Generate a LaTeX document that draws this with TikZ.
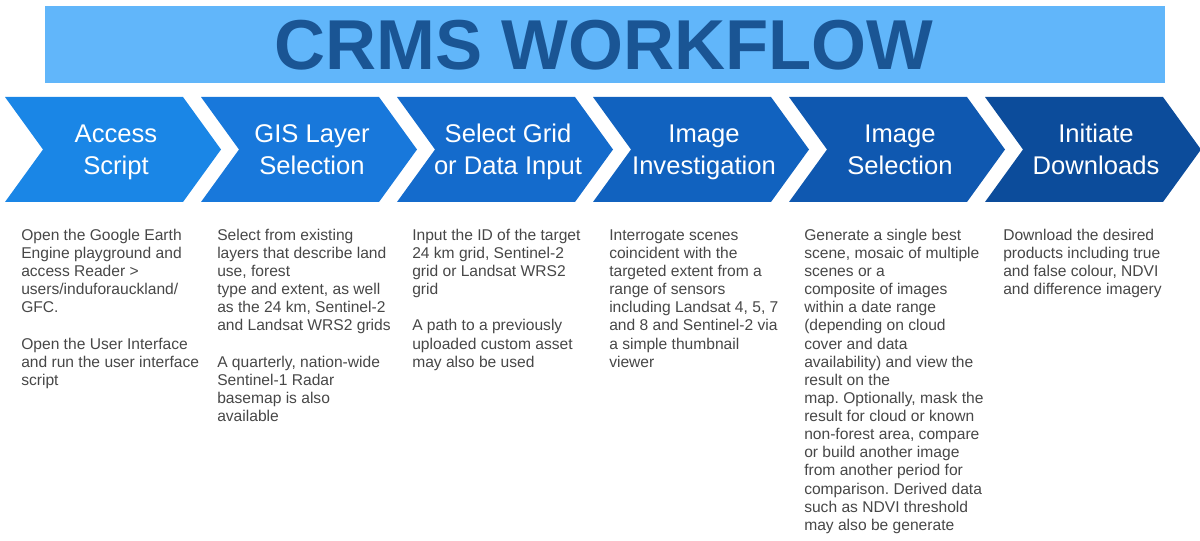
\documentclass[tikz,border=0pt]{standalone}
\usepackage{fontspec}
\setmainfont{Liberation Sans}
\frenchspacing
\definecolor{bannerblue}{HTML}{61B6FA}
\definecolor{titleblue}{HTML}{1A5594}
\definecolor{stepA}{HTML}{1A86E6}
\definecolor{stepB}{HTML}{1878DB}
\definecolor{stepC}{HTML}{146BCC}
\definecolor{stepD}{HTML}{1162BF}
\definecolor{stepE}{HTML}{0F58B0}
\definecolor{stepF}{HTML}{0C4C9B}
\definecolor{notegray}{HTML}{474747}
\begin{document}
\begin{tikzpicture}[x=0.75pt,y=-0.75pt,
    steplabel/.style={text=white,align=center,font=\fontsize{19.2}{24}\selectfont},
    stepnote/.style={text=notegray,align=left,anchor=north west,inner sep=0pt,
      font=\fontsize{11.7}{13.6}\selectfont}]
  \useasboundingbox (0,0) rectangle (1200,541);

  % title banner
  \fill[bannerblue] (45,6) rectangle (1165,83);
  \node[text=titleblue,font=\fontsize{53}{60}\selectfont\bfseries] (title) at (604,45) {CRMS WORKFLOW};

  % chevrons
  \foreach \i/\col/\lbl/\top/\bot in {0/stepA/access/Access/Script,
      1/stepB/gis/GIS Layer/Selection,
      2/stepC/grid/Select Grid/or Data Input,
      3/stepD/invest/Image/Investigation,
      4/stepE/select/Image/Selection,
      5/stepF/download/Initiate/Downloads} {
    \fill[\col] (5+196*\i,97) -- ++(178,0) -- ++(38,52.5) -- ++(-38,52.5)
      -- ++(-178,0) -- ++(38,-52.5) -- cycle;
    \node[steplabel] (\lbl) at (116+196*\i,152) {\strut\top\\\strut\bot};
  }

  % notes under each step
  \node[stepnote] (access-note) at (21,227.3) {\strut Open the Google Earth\\
    Engine playground and\\access Reader >\\users/induforauckland/\\GFC.\\[13.6pt]
    Open the User Interface\\and run the user interface\\script};
  \node[stepnote] (gis-note) at (217,227.3) {\strut Select from existing\\
    layers that describe land\\use, forest\\type and extent, as well\\
    as the 24 km, Sentinel-2\\and Landsat WRS2 grids\\[13.6pt]
    A quarterly, nation-wide\\Sentinel-1 Radar\\basemap is also\\available};
  \node[stepnote] (grid-note) at (412,227.3) {\strut Input the ID of the target\\
    24 km grid, Sentinel-2\\grid or Landsat WRS2\\grid\\[13.6pt]
    A path to a previously\\uploaded custom asset\\may also be used};
  \node[stepnote] (invest-note) at (609,227.3) {\strut Interrogate scenes\\
    coincident with the\\targeted extent from a\\range of sensors\\
    including Landsat 4, 5, 7\\and 8 and Sentinel-2 via\\a simple thumbnail\\viewer};
  \node[stepnote] (select-note) at (804,227.3) {\strut Generate a single best\\
    scene, mosaic of multiple\\scenes or a\\composite of images\\within a date range\\
    (depending on cloud\\cover and data\\availability) and view the\\result on the\\
    map. Optionally, mask the\\result for cloud or known\\non-forest area, compare\\
    or build another image\\from another period for\\comparison. Derived data\\
    such as NDVI threshold\\may also be generate};
  \node[stepnote] (download-note) at (1003,227.3) {\strut Download the desired\\
    products including true\\and false colour, NDVI\\and difference imagery};
\end{tikzpicture}
\end{document}
